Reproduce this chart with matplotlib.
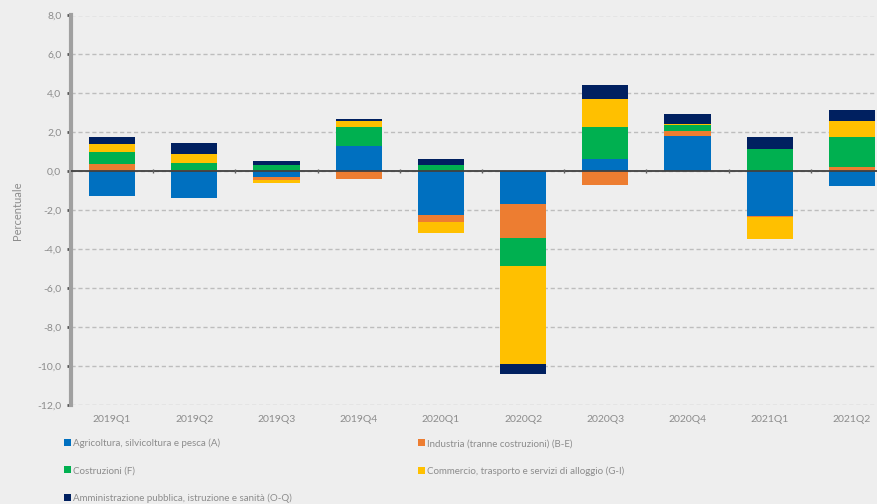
import numpy as np
import matplotlib.pyplot as plt

plt.rcParams["font.family"] = ["Lato", "DejaVu Sans"]

quarters = ["2019Q1", "2019Q2", "2019Q3", "2019Q4", "2020Q1",
            "2020Q2", "2020Q3", "2020Q4", "2021Q1", "2021Q2"]

# contributi per settore (punti percentuali)
agricoltura = [-1.29, -1.37, -0.27, 1.31, -2.23, -1.68, 0.64, 1.82, -2.32, -0.74]
industria = [0.37, 0.05, -0.17, -0.37, -0.39, -1.74, -0.69, 0.26, -0.05, 0.21]
costruzioni = [0.60, 0.37, 0.33, 0.96, 0.33, -1.45, 1.66, 0.29, 1.15, 1.57]
commercio = [0.45, 0.47, -0.14, 0.29, -0.55, -5.00, 1.40, 0.05, -1.11, 0.79]
amministrazione = [0.34, 0.58, 0.22, 0.15, 0.31, -0.55, 0.73, 0.51, 0.60, 0.58]

labels = ["Agricoltura, silvicoltura e pesca (A)",
          "Industria (tranne costruzioni) (B-E)",
          "Costruzioni (F)",
          "Commercio, trasporto e servizi di alloggio (G-I)",
          "Amministrazione pubblica, istruzione e sanità (O-Q)"]
colors = ["#0070C0", "#ED7D31", "#00B050", "#FFC000", "#002060"]

series = [agricoltura, industria, costruzioni, commercio, amministrazione]

fig = plt.figure(figsize=(8.77, 5.04), dpi=100, facecolor="#EEEEEE")
ax = fig.add_axes([71 / 877, 99 / 504, 822 / 877, 389.5 / 504])
ax.set_facecolor("#EEEEEE")

x = np.arange(len(quarters))
pos_base = np.zeros(len(quarters))
neg_base = np.zeros(len(quarters))
handles = []
for vals, col, lab in zip(series, colors, labels):
    v = np.array(vals)
    bottoms = np.where(v >= 0, pos_base, neg_base)
    h = ax.bar(x, v, 0.56, bottom=bottoms, color=col, label=lab, zorder=3)
    handles.append(h)
    pos_base += np.where(v >= 0, v, 0)
    neg_base += np.where(v < 0, v, 0)

ax.set_xlim(-0.5, 9.5)
ax.set_ylim(-12, 8)
ax.set_yticks(np.arange(-12, 9, 2))
ax.set_yticklabels([f"{t:.1f}".replace(".", ",") for t in np.arange(-12, 9, 2)])
ax.grid(axis="y", color="#BDBDBD", linestyle=(0, (3, 2)), linewidth=1.0, zorder=0)

ax.axhline(0, color="#404040", linewidth=1.3, zorder=4)
ax.vlines(np.arange(0.5, len(quarters) - 0.5), -0.1, 0.1, color="#606060",
          linewidth=1.0, zorder=4)

for s in ["top", "right", "bottom"]:
    ax.spines[s].set_visible(False)
ax.spines["left"].set_color("#A0A0A0")
ax.spines["left"].set_linewidth(3)

ax.set_xticks(x)
ax.set_xticklabels(quarters)
ax.tick_params(axis="x", length=0, pad=7, labelsize=7.5, labelcolor="#8C8C8C")
ax.tick_params(axis="y", length=3, width=2, color="#505050", pad=4,
               labelsize=7.5, labelcolor="#8C8C8C")

ax.set_ylabel("Percentuale", fontsize=8, color="#8C8C8C", labelpad=10)

order = [0, 2, 4, 1, 3]
fig.legend([handles[i] for i in order], [labels[i] for i in order],
           ncol=2, loc="upper left", bbox_to_anchor=(55 / 877, 1 - 430 / 504),
           frameon=False, fontsize=7, labelcolor="#8C8C8C",
           handlelength=0.7, handleheight=0.7, handletextpad=0.3,
           columnspacing=12.9, labelspacing=1.85)

fig.savefig("out.png", dpi=100, facecolor=fig.get_facecolor())
